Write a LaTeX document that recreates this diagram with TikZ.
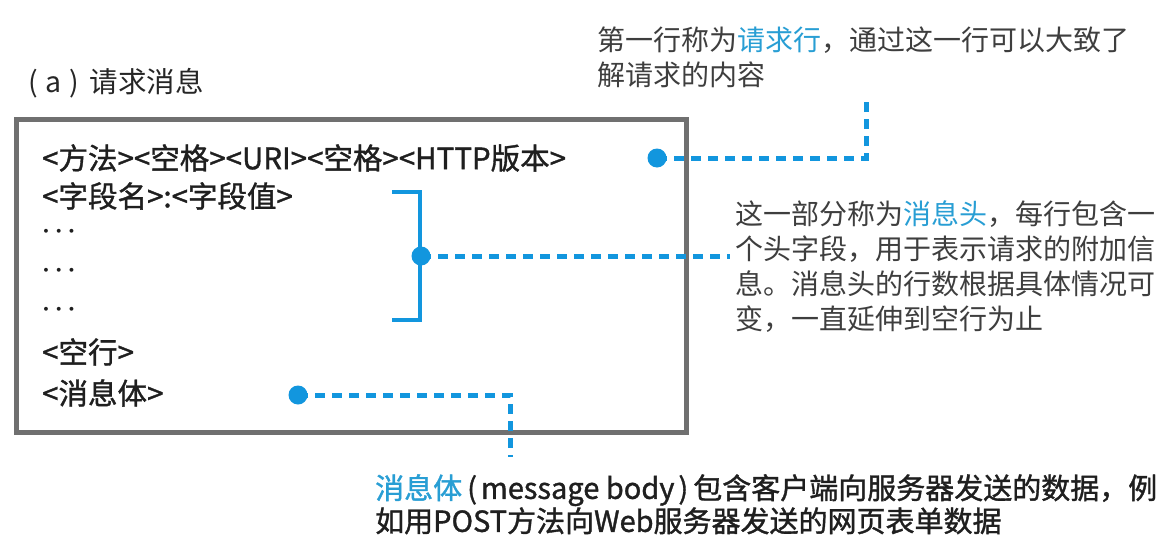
\documentclass[tikz,border=0pt]{standalone}
\usepackage{fontspec}
\usepackage{amsmath}
\setmainfont{Noto Sans CJK SC}
\newfontfamily\heavyfont{Noto Sans CJK SC}[FakeBold=1.2]
\usetikzlibrary{positioning}

\definecolor{hiblue}{RGB}{18,150,222}
\definecolor{wordblue}{RGB}{40,158,212}
\definecolor{boxgray}{RGB}{112,112,112}
\definecolor{inkgray}{RGB}{62,62,62}

\begin{document}
\begin{tikzpicture}[x=1pt,y=-1pt,
    dot/.style={circle, fill=hiblue, inner sep=0pt, minimum size=19pt},
    lead/.style={hiblue, line width=5pt, dash pattern=on 10pt off 7pt},
    row/.style={anchor=west, inner sep=0pt, text=black!88, font=\heavyfont\fontsize{29.5}{32}\selectfont},
    note/.style={anchor=north west, inner sep=0pt, align=left, text=inkgray, font=\fontsize{28}{35}\selectfont}
]
    \useasboundingbox[fill=white] (0,0) rectangle (1173,554);

    % Title and message box
    \node[anchor=west, inner sep=0pt, text=black!85, font=\fontsize{28.5}{30}\selectfont] (title) at (28,83)
        {(\hspace{8pt}a\hspace{8pt})\hspace{10pt}请求消息};
    \node[draw=boxgray, line width=4.5pt, anchor=north west, minimum width=670, minimum height=313] (msg) at (14,117) {};

    % Lines of the request
    \node[row] (line)  at (42,158) {<方法><空格><URI><空格><HTTP版本>};
    \node[row] (field) at (42,196) {<字段名>:<字段值>};
    \foreach \y/\n in {232/a,271/b,310/c}{
        \node[row] (dots\n) at (42,\y) {$\boldsymbol{\cdots}$};
    }
    \node[row] (blank) at (42,352) {<空行>};
    \node[row] (body)  at (42,393) {<消息体>};

    % Bracket for the header fields
    \coordinate (brt) at (392,192);
    \coordinate (brb) at (392,320);
    \draw[hiblue, line width=4pt] (brt) -- (420,192) -- (420,320) -- (brb);

    % Dots and leads
    \node[dot] (d1) at (657,158) {};
    \node[dot] (d2) at (421,256) {};
    \node[dot] (d3) at (298,395) {};
    \coordinate (e1) at (866,98);
    \coordinate (e2) at (730,256);
    \coordinate (e3) at (510,457);
    \draw[lead] (d1.center) -| (e1);
    \draw[lead] (d2.center) -- (e2);
    \draw[lead] (d3.center) -| (e3);

    % Notes
    \node[note] (n1) at (597,27)
        {第一行称为\textcolor{wordblue}{请求行}，通过这一行可以大致了\\解请求的内容};
    \node[note] (n2) at (735,200)
        {这一部分称为\textcolor{wordblue}{消息头}，每行包含一\\个头字段，用于表示请求的附加信\\息。消息头的行数根据具体情况可\\变，一直延伸到空行为止};
    \node[note, text=black!88, font=\heavyfont\fontsize{29}{33}\selectfont] (n3) at (375,474)
        {\textcolor{wordblue}{消息体}\hspace{5pt}(\hspace{4pt}message body\hspace{4pt})\hspace{5pt}包含客户端向服务器发送的数据，例\\如用POST方法向Web服务器发送的网页表单数据};
\end{tikzpicture}
\end{document}
